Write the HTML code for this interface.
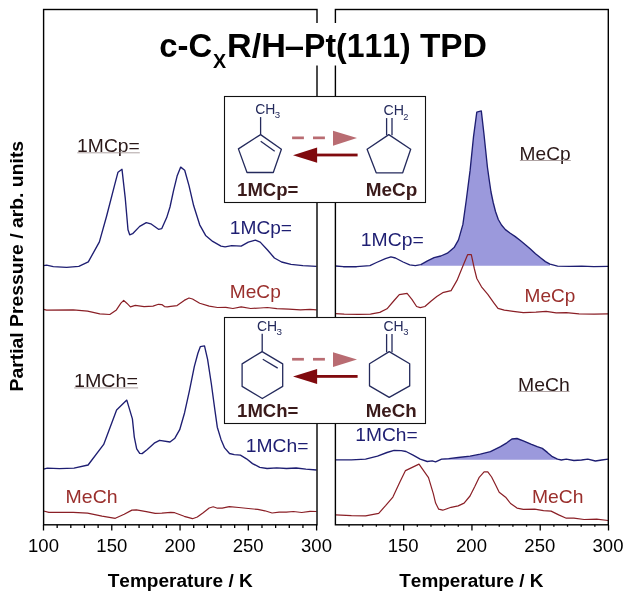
<!DOCTYPE html>
<html><head><meta charset="utf-8"><title>c-CxR/H-Pt(111) TPD</title>
<style>html,body{margin:0;padding:0;background:#fff;}svg{display:block;will-change:transform;}text{font-family:"Liberation Sans",sans-serif;font-kerning:none;}</style>
</head><body>
<svg width="632" height="597" viewBox="0 0 632 597">
<rect x="0" y="0" width="632" height="597" fill="#ffffff"/>
<polygon points="420.8,265.8 420.8,264.7 427.5,260.9 434.1,257.6 440.8,256.0 447.4,253.2 454.1,247.6 458.5,239.9 462.9,224.4 466.3,200.0 470.1,170.4 473.5,136.9 476.8,112.1 481.3,110.9 483.9,133.5 487.4,167.0 489.3,180.5 491.0,192.0 493.2,202.5 495.5,211.5 498.3,219.5 501.5,225.0 505.4,229.6 510.3,233.3 515.3,236.6 520.3,240.5 525.4,244.7 530.4,249.0 535.5,253.7 540.5,257.8 545.4,261.6 550.0,264.2 550.0,265.8" fill="#9b99dc"/>
<polygon points="441.6,459.8 441.6,459.2 448.7,458.7 458.2,457.5 470.1,456.2 480.3,454.2 490.4,451.6 500.5,446.6 506.8,442.8 511.9,439.0 517.0,438.5 523.3,440.8 530.9,444.1 537.2,446.6 542.3,448.4 547.3,452.4 552.4,456.7 557.5,459.2 557.5,459.8" fill="#9b99dc"/>
<polyline points="43.5,265.6 46.6,265.2 53.3,266.7 66.6,267.4 78.8,266.3 88.3,261.9 99.4,241.9 106.5,216.5 114.2,186.6 118.0,172.2 122.0,169.3 125.3,198.7 128.0,229.8 129.7,234.8 132.6,233.7 139.7,226.4 146.3,222.7 150.8,223.8 158.5,229.3 161.8,228.6 166.7,217.6 170.0,207.0 173.6,190.4 177.1,176.1 180.7,167.1 184.7,170.2 189.0,185.6 193.7,205.8 199.7,224.8 205.6,235.4 212.7,241.4 221.0,246.1 225.1,246.8 231.7,245.7 241.2,246.1 248.3,242.1 255.4,240.2 260.2,242.1 267.3,249.7 274.4,258.0 281.6,262.0 291.0,264.4 302.9,265.6 316.5,266.3" fill="none" stroke="#1e1e72" stroke-width="1.35" stroke-linejoin="round" stroke-linecap="butt"/>
<polyline points="43.5,309.4 46.6,310.1 73.2,309.9 87.6,311.2 99.8,313.9 109.8,314.5 116.4,309.9 120.9,303.2 123.7,300.4 126.8,303.2 130.4,306.8 135.3,305.4 144.1,306.6 153.0,306.1 158.5,304.3 161.8,304.6 164.5,306.6 167.4,306.8 170.7,306.3 177.1,305.6 184.2,300.4 189.0,298.0 192.5,299.0 199.7,303.2 209.2,306.1 217.5,307.5 225.8,307.3 232.9,308.5 241.2,306.8 250.7,308.5 260.2,308.0 267.3,307.5 276.8,308.7 288.7,309.2 300.5,309.9 310.0,309.4 316.5,309.9" fill="none" stroke="#8a1f26" stroke-width="1.2" stroke-linejoin="round" stroke-linecap="butt"/>
<polyline points="43.5,469.2 47.3,468.2 59.4,468.7 74.0,468.2 88.1,465.0 103.7,444.4 116.6,409.9 126.8,400.1 132.4,418.9 134.3,437.1 136.7,448.8 139.7,453.4 142.1,453.6 147.0,449.7 154.2,443.2 159.6,440.3 170.0,442.0 174.9,438.2 179.7,429.7 184.6,412.7 189.4,390.8 194.3,366.6 197.9,353.2 200.3,346.7 204.5,345.9 207.6,359.3 211.3,383.5 214.9,410.2 217.3,427.2 221.0,439.4 224.6,447.9 229.5,453.5 234.3,454.7 240.4,455.1 246.5,458.8 252.5,463.6 259.8,467.3 267.1,468.5 276.8,467.8 286.5,468.5 296.2,468.0 305.9,469.2 316.5,470.0" fill="none" stroke="#1e1e72" stroke-width="1.35" stroke-linejoin="round" stroke-linecap="butt"/>
<polyline points="43.5,511.0 48.9,512.3 73.2,512.3 87.6,513.2 102.0,516.1 115.3,518.3 124.2,514.3 131.9,510.1 136.4,509.9 146.3,511.6 155.2,513.4 161.8,513.2 170.7,512.4 174.7,512.7 184.2,516.3 192.5,518.7 197.3,517.0 203.2,512.7 209.2,508.0 213.2,506.8 217.5,508.2 222.2,508.2 229.3,506.6 238.8,507.5 248.3,508.5 257.8,509.4 264.9,510.8 272.1,513.0 279.2,512.2 286.3,512.2 293.4,511.5 301.7,512.5 310.0,511.3 316.5,511.5" fill="none" stroke="#8a1f26" stroke-width="1.2" stroke-linejoin="round" stroke-linecap="butt"/>
<polyline points="335.5,266.0 343.3,266.7 356.6,266.7 369.9,265.6 376.5,262.5 385.4,258.7 390.9,256.9 395.4,258.0 403.1,262.0 409.7,264.9 415.3,265.6 420.8,264.7 427.5,260.9 434.1,257.6 440.8,256.0 447.4,253.2 454.1,247.6 458.5,239.9 462.9,224.4 466.3,200.0 470.1,170.4 473.5,136.9 476.8,112.1 481.3,110.9 483.9,133.5 487.4,167.0 489.3,180.5 491.0,192.0 493.2,202.5 495.5,211.5 498.3,219.5 501.5,225.0 505.4,229.6 510.3,233.3 515.3,236.6 520.3,240.5 525.4,244.7 530.4,249.0 535.5,253.7 540.5,257.8 545.4,261.6 550.0,264.2 557.6,266.1 569.6,266.4 581.7,266.1 593.8,266.7 608.0,266.4" fill="none" stroke="#1e1e72" stroke-width="1.35" stroke-linejoin="round" stroke-linecap="butt"/>
<polyline points="335.5,313.6 344.2,314.1 358.5,314.3 370.4,314.1 379.8,312.4 387.0,308.8 394.1,300.5 399.3,294.6 407.1,293.4 411.9,299.3 416.6,306.5 420.2,307.6 424.9,306.5 430.9,301.2 436.8,296.5 442.7,292.7 451.1,290.6 457.0,280.4 462.9,266.1 467.6,254.7 471.3,254.7 474.3,268.5 476.8,278.5 481.5,286.8 487.8,294.4 494.2,303.3 498.0,308.4 504.3,310.1 513.2,311.4 523.3,312.7 535.9,312.2 546.1,311.4 556.2,312.9 566.3,312.7 579.0,313.9 594.2,314.2 608.0,313.9" fill="none" stroke="#8a1f26" stroke-width="1.2" stroke-linejoin="round" stroke-linecap="butt"/>
<polyline points="335.5,459.9 351.4,459.9 365.6,459.2 377.5,456.1 387.0,452.5 394.1,450.4 401.2,450.6 406.0,451.5 413.1,455.1 420.2,459.2 427.3,461.5 432.1,460.8 435.6,461.8 441.6,459.2 448.7,458.7 458.2,457.5 470.1,456.2 480.3,454.2 490.4,451.6 500.5,446.6 506.8,442.8 511.9,439.0 517.0,438.5 523.3,440.8 530.9,444.1 537.2,446.6 542.3,448.4 547.3,452.4 552.4,456.7 557.5,459.2 561.3,460.0 566.3,459.2 573.9,460.5 581.5,460.0 587.8,459.2 595.4,461.0 601.8,460.0 608.0,459.2" fill="none" stroke="#1e1e72" stroke-width="1.35" stroke-linejoin="round" stroke-linecap="butt"/>
<polyline points="335.5,514.9 351.4,515.7 365.6,515.9 378.7,513.3 385.8,505.4 392.9,497.1 400.0,481.7 405.5,470.6 419.0,464.1 428.5,477.7 433.3,493.6 435.6,503.1 438.7,509.2 442.7,510.2 451.1,507.3 458.2,505.9 464.1,503.1 470.0,496.0 474.8,486.5 479.0,477.7 484.1,471.9 487.8,471.9 491.6,477.0 495.4,484.6 499.2,492.2 505.6,497.2 510.6,503.5 517.0,508.1 523.3,509.4 534.7,509.1 543.5,510.6 551.1,511.1 558.7,514.9 566.3,518.2 573.9,518.2 584.1,519.5 596.7,519.2 608.0,520.5" fill="none" stroke="#8a1f26" stroke-width="1.2" stroke-linejoin="round" stroke-linecap="butt"/>
<rect x="43.6" y="9.5" width="273.4" height="515.3" fill="none" stroke="#000" stroke-width="1.4"/>
<rect x="335.4" y="9.5" width="272.9" height="515.3" fill="none" stroke="#000" stroke-width="1.4"/>
<line x1="43.50" y1="524.8" x2="43.50" y2="530.5" stroke="#000" stroke-width="1.3"/>
<line x1="57.16" y1="524.8" x2="57.16" y2="528.0" stroke="#000" stroke-width="1.3"/>
<line x1="70.81" y1="524.8" x2="70.81" y2="528.0" stroke="#000" stroke-width="1.3"/>
<line x1="84.47" y1="524.8" x2="84.47" y2="528.0" stroke="#000" stroke-width="1.3"/>
<line x1="98.12" y1="524.8" x2="98.12" y2="528.0" stroke="#000" stroke-width="1.3"/>
<line x1="111.77" y1="524.8" x2="111.77" y2="530.5" stroke="#000" stroke-width="1.3"/>
<line x1="125.43" y1="524.8" x2="125.43" y2="528.0" stroke="#000" stroke-width="1.3"/>
<line x1="139.08" y1="524.8" x2="139.08" y2="528.0" stroke="#000" stroke-width="1.3"/>
<line x1="152.74" y1="524.8" x2="152.74" y2="528.0" stroke="#000" stroke-width="1.3"/>
<line x1="166.39" y1="524.8" x2="166.39" y2="528.0" stroke="#000" stroke-width="1.3"/>
<line x1="180.05" y1="524.8" x2="180.05" y2="530.5" stroke="#000" stroke-width="1.3"/>
<line x1="193.70" y1="524.8" x2="193.70" y2="528.0" stroke="#000" stroke-width="1.3"/>
<line x1="207.36" y1="524.8" x2="207.36" y2="528.0" stroke="#000" stroke-width="1.3"/>
<line x1="221.01" y1="524.8" x2="221.01" y2="528.0" stroke="#000" stroke-width="1.3"/>
<line x1="234.67" y1="524.8" x2="234.67" y2="528.0" stroke="#000" stroke-width="1.3"/>
<line x1="248.32" y1="524.8" x2="248.32" y2="530.5" stroke="#000" stroke-width="1.3"/>
<line x1="261.98" y1="524.8" x2="261.98" y2="528.0" stroke="#000" stroke-width="1.3"/>
<line x1="275.63" y1="524.8" x2="275.63" y2="528.0" stroke="#000" stroke-width="1.3"/>
<line x1="289.29" y1="524.8" x2="289.29" y2="528.0" stroke="#000" stroke-width="1.3"/>
<line x1="302.94" y1="524.8" x2="302.94" y2="528.0" stroke="#000" stroke-width="1.3"/>
<line x1="316.60" y1="524.8" x2="316.60" y2="530.5" stroke="#000" stroke-width="1.3"/>
<line x1="349.05" y1="524.8" x2="349.05" y2="526.7" stroke="#000" stroke-width="1.3"/>
<line x1="362.71" y1="524.8" x2="362.71" y2="526.7" stroke="#000" stroke-width="1.3"/>
<line x1="376.36" y1="524.8" x2="376.36" y2="526.7" stroke="#000" stroke-width="1.3"/>
<line x1="390.02" y1="524.8" x2="390.02" y2="526.7" stroke="#000" stroke-width="1.3"/>
<line x1="403.67" y1="524.8" x2="403.67" y2="530.5" stroke="#000" stroke-width="1.3"/>
<line x1="417.33" y1="524.8" x2="417.33" y2="526.7" stroke="#000" stroke-width="1.3"/>
<line x1="430.98" y1="524.8" x2="430.98" y2="526.7" stroke="#000" stroke-width="1.3"/>
<line x1="444.64" y1="524.8" x2="444.64" y2="526.7" stroke="#000" stroke-width="1.3"/>
<line x1="458.29" y1="524.8" x2="458.29" y2="526.7" stroke="#000" stroke-width="1.3"/>
<line x1="471.95" y1="524.8" x2="471.95" y2="530.5" stroke="#000" stroke-width="1.3"/>
<line x1="485.60" y1="524.8" x2="485.60" y2="526.7" stroke="#000" stroke-width="1.3"/>
<line x1="499.26" y1="524.8" x2="499.26" y2="526.7" stroke="#000" stroke-width="1.3"/>
<line x1="512.91" y1="524.8" x2="512.91" y2="526.7" stroke="#000" stroke-width="1.3"/>
<line x1="526.57" y1="524.8" x2="526.57" y2="526.7" stroke="#000" stroke-width="1.3"/>
<line x1="540.22" y1="524.8" x2="540.22" y2="530.5" stroke="#000" stroke-width="1.3"/>
<line x1="553.88" y1="524.8" x2="553.88" y2="526.7" stroke="#000" stroke-width="1.3"/>
<line x1="567.53" y1="524.8" x2="567.53" y2="526.7" stroke="#000" stroke-width="1.3"/>
<line x1="581.19" y1="524.8" x2="581.19" y2="526.7" stroke="#000" stroke-width="1.3"/>
<line x1="594.85" y1="524.8" x2="594.85" y2="526.7" stroke="#000" stroke-width="1.3"/>
<line x1="608.50" y1="524.8" x2="608.50" y2="530.5" stroke="#000" stroke-width="1.3"/>
<text x="43.5" y="552.4" font-size="18.5" text-anchor="middle" fill="#000">100</text>
<text x="111.8" y="552.4" font-size="18.5" text-anchor="middle" fill="#000">150</text>
<text x="180.0" y="552.4" font-size="18.5" text-anchor="middle" fill="#000">200</text>
<text x="248.2" y="552.4" font-size="18.5" text-anchor="middle" fill="#000">250</text>
<text x="316.5" y="552.4" font-size="18.5" text-anchor="middle" fill="#000">300</text>
<text x="403.2" y="552.4" font-size="18.5" text-anchor="middle" fill="#000">150</text>
<text x="471.5" y="552.4" font-size="18.5" text-anchor="middle" fill="#000">200</text>
<text x="539.8" y="552.4" font-size="18.5" text-anchor="middle" fill="#000">250</text>
<text x="608.0" y="552.4" font-size="18.5" text-anchor="middle" fill="#000">300</text>
<text x="107.69" y="587.30" font-size="19.2" font-weight="bold" fill="#000" textLength="145.09" lengthAdjust="spacingAndGlyphs">Temperature / K</text>
<text x="399.29" y="587.30" font-size="19.2" font-weight="bold" fill="#000" textLength="144.19" lengthAdjust="spacingAndGlyphs">Temperature / K</text>
<g transform="translate(23.4,0) rotate(-90)">
<text x="-391.49" y="0.00" font-size="19.2" font-weight="bold" fill="#000" textLength="250.59" lengthAdjust="spacingAndGlyphs">Partial Pressure / arb. units</text>
</g>
<rect x="150" y="23" width="345" height="42.5" fill="#fff"/>
<text x="159.22" y="57.30" font-size="33" font-weight="bold" fill="#000" textLength="52.88" lengthAdjust="spacingAndGlyphs">c-C</text>
<text x="213.03" y="67.80" font-size="20.3" font-weight="bold" fill="#000" textLength="13.15" lengthAdjust="spacingAndGlyphs">X</text>
<text x="227.12" y="57.30" font-size="33" font-weight="bold" fill="#000" textLength="58.78" lengthAdjust="spacingAndGlyphs">R/H</text>
<text x="284.75" y="57.30" font-size="33" font-weight="bold" fill="#000" textLength="19.32" lengthAdjust="spacingAndGlyphs">–</text>
<text x="304.06" y="57.30" font-size="33" font-weight="bold" fill="#000" textLength="106.74" lengthAdjust="spacingAndGlyphs">Pt(111)</text>
<text x="419.92" y="57.30" font-size="33" font-weight="bold" fill="#000" textLength="66.88" lengthAdjust="spacingAndGlyphs">TPD</text>
<text x="77.13" y="152.20" font-size="18.2" fill="#2a1818" textLength="62.62" lengthAdjust="spacingAndGlyphs">1MCp=</text>
<line x1="77.3" y1="152.79999999999998" x2="139.8" y2="152.79999999999998" stroke="#a09292" stroke-width="0.85"/>
<text x="229.84" y="233.90" font-size="18.2" fill="#1e1e72" textLength="62.20" lengthAdjust="spacingAndGlyphs">1MCp=</text>
<text x="229.83" y="298.30" font-size="18.2" fill="#9a2f2c" textLength="50.97" lengthAdjust="spacingAndGlyphs">MeCp</text>
<text x="74.00" y="387.30" font-size="18.2" fill="#2a1818" textLength="64.07" lengthAdjust="spacingAndGlyphs">1MCh=</text>
<line x1="74.2" y1="387.90000000000003" x2="138.1" y2="387.90000000000003" stroke="#a09292" stroke-width="0.85"/>
<text x="245.73" y="452.40" font-size="18.2" fill="#1e1e72" textLength="62.72" lengthAdjust="spacingAndGlyphs">1MCh=</text>
<text x="65.60" y="502.80" font-size="18.2" fill="#9a2f2c" textLength="51.96" lengthAdjust="spacingAndGlyphs">MeCh</text>
<text x="360.83" y="245.70" font-size="18.2" fill="#1e1e72" textLength="62.93" lengthAdjust="spacingAndGlyphs">1MCp=</text>
<text x="519.63" y="159.90" font-size="18.2" fill="#2a1818" textLength="50.97" lengthAdjust="spacingAndGlyphs">MeCp</text>
<line x1="519.9000000000001" y1="160.5" x2="570.8000000000001" y2="160.5" stroke="#a09292" stroke-width="0.85"/>
<text x="524.54" y="302.00" font-size="18.2" fill="#9a2f2c" textLength="50.76" lengthAdjust="spacingAndGlyphs">MeCp</text>
<text x="355.34" y="440.80" font-size="18.2" fill="#1e1e72" textLength="62.30" lengthAdjust="spacingAndGlyphs">1MCh=</text>
<text x="518.01" y="390.90" font-size="18.2" fill="#2a1818" textLength="51.75" lengthAdjust="spacingAndGlyphs">MeCh</text>
<line x1="518.3000000000001" y1="391.5" x2="569.5" y2="391.5" stroke="#a09292" stroke-width="0.85"/>
<text x="532.02" y="502.80" font-size="18.2" fill="#9a2f2c" textLength="51.43" lengthAdjust="spacingAndGlyphs">MeCh</text>
<g transform="translate(0,96.2)">
<rect x="224.5" y="0.3" width="201" height="106" fill="#fff" stroke="#111" stroke-width="1.1"/>
<polygon points="260.6,38.4 281.4,53.1 273.3,76.3 247.0,76.3 238.4,52.7" fill="none" stroke="#242a5c" stroke-width="1.3" stroke-linejoin="round"/>
<line x1="260.6" y1="38.4" x2="260.6" y2="20.9" stroke="#242a5c" stroke-width="1.3"/>
<line x1="260.7" y1="45.0" x2="274.7" y2="55.0" stroke="#242a5c" stroke-width="1.3"/>
<text x="255.19" y="17.90" font-size="14.2" fill="#242a5c" textLength="20.15" lengthAdjust="spacingAndGlyphs">CH</text>
<text x="274.83" y="22.10" font-size="9.6" fill="#242a5c" textLength="5.40" lengthAdjust="spacingAndGlyphs">3</text>
<polygon points="388.8,38.4 410.7,53.1 402.7,76.6 376.2,76.6 367.1,53.1" fill="none" stroke="#242a5c" stroke-width="1.3" stroke-linejoin="round"/>
<line x1="386.6" y1="39" x2="386.6" y2="21.9" stroke="#242a5c" stroke-width="1.3"/>
<line x1="392.0" y1="39" x2="392.0" y2="21.9" stroke="#242a5c" stroke-width="1.3"/>
<text x="383.48" y="19.10" font-size="14.2" fill="#242a5c" textLength="20.48" lengthAdjust="spacingAndGlyphs">CH</text>
<text x="403.34" y="23.60" font-size="9.6" fill="#242a5c" textLength="5.13" lengthAdjust="spacingAndGlyphs">2</text>
<text x="237.1" y="99.4" font-size="18" font-weight="bold" fill="#3a1a1a" textLength="61.3" lengthAdjust="spacingAndGlyphs">1MCp=</text>
<text x="365.7" y="99.4" font-size="18" font-weight="bold" fill="#3a1a1a" textLength="51.6" lengthAdjust="spacingAndGlyphs">MeCp</text>
<rect x="292.1" y="40.3" width="11.8" height="2.7" fill="#b96c72"/>
<rect x="313" y="40.3" width="11.9" height="2.7" fill="#b96c72"/>
<polygon points="333,34.6 333,49.5 357,41.9" fill="#b96c72"/>
<rect x="316" y="57.4" width="41.6" height="2.8" fill="#800a0e"/>
<polygon points="317.1,51.4 317.1,66.5 293,59" fill="#800a0e"/>
</g>
<g transform="translate(0,317.6)">
<rect x="224.5" y="-0.1" width="201" height="106" fill="#fff" stroke="#111" stroke-width="1.1"/>
<polygon points="262.1,34 282.7,46.3 282.7,68.8 262.3,80.9 242.1,68.8 242.1,46.3" fill="none" stroke="#242a5c" stroke-width="1.3" stroke-linejoin="round"/>
<line x1="262.2" y1="34" x2="262.2" y2="16.1" stroke="#242a5c" stroke-width="1.3"/>
<line x1="262.8" y1="41.6" x2="277.7" y2="50.5" stroke="#242a5c" stroke-width="1.3"/>
<text x="256.99" y="13.00" font-size="14.2" fill="#242a5c" textLength="20.15" lengthAdjust="spacingAndGlyphs">CH</text>
<text x="276.62" y="17.10" font-size="9.6" fill="#242a5c" textLength="5.51" lengthAdjust="spacingAndGlyphs">3</text>
<polygon points="389.2,34 409.7,46.2 409.7,68.3 389.2,79.8 369.5,68.3 369.5,46.2" fill="none" stroke="#242a5c" stroke-width="1.3" stroke-linejoin="round"/>
<line x1="386.6" y1="34.6" x2="386.6" y2="16.5" stroke="#242a5c" stroke-width="1.3"/>
<line x1="392.0" y1="34.6" x2="392.0" y2="16.5" stroke="#242a5c" stroke-width="1.3"/>
<text x="383.49" y="13.90" font-size="14.2" fill="#242a5c" textLength="20.15" lengthAdjust="spacingAndGlyphs">CH</text>
<text x="403.14" y="17.80" font-size="9.6" fill="#242a5c" textLength="5.28" lengthAdjust="spacingAndGlyphs">3</text>
<text x="237.1" y="99" font-size="18" font-weight="bold" fill="#3a1a1a" textLength="61.3" lengthAdjust="spacingAndGlyphs">1MCh=</text>
<text x="365.7" y="99" font-size="18" font-weight="bold" fill="#3a1a1a" textLength="51" lengthAdjust="spacingAndGlyphs">MeCh</text>
<rect x="292.1" y="40.3" width="11.8" height="2.7" fill="#b96c72"/>
<rect x="313" y="40.3" width="11.9" height="2.7" fill="#b96c72"/>
<polygon points="333,34.6 333,49.5 357,41.9" fill="#b96c72"/>
<rect x="316" y="57.4" width="41.6" height="2.8" fill="#800a0e"/>
<polygon points="317.1,51.4 317.1,66.5 293,59" fill="#800a0e"/>
</g>
</svg>
</body></html>
